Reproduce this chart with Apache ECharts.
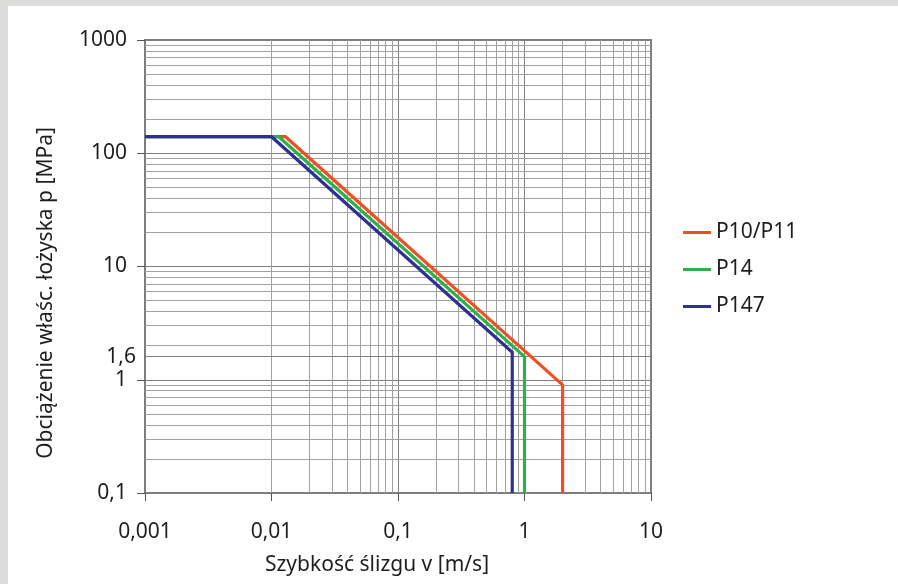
<!DOCTYPE html>
<html><head><meta charset="utf-8">
<script src="https://cdn.jsdelivr.net/npm/echarts@6/dist/echarts.min.js"></script>
<style>html,body{margin:0;padding:0;background:#fff}#c{width:898px;height:584px}</style>
</head><body><div id="c"></div>
<script>
// ---- data ----
const seriesNames = ['P10/P11', 'P14', 'P147'];
const seriesColors = ['#f04e23', '#2bb04a', '#2e3192'];
const p10Points = [[0.001, 140], [0.0129, 140], [2, 0.9], [2, 0.1]];
const p14Points = [[0.001, 140], [0.0114, 140], [1, 1.6], [1, 0.1]];
const p147Points = [[0.001, 140], [0.01, 140], [0.8, 1.75], [0.8, 0.1]];
const xTickLabels = ['0,001', '0,01', '0,1', '1', '10'];
const yTickLabels = ['0,1', '1', '10', '100', '1000'];
const extraYValue = 1.6;
const extraYLabel = '1,6';
const minorMultipliers = [2, 3, 4, 5, 6, 7, 8, 9];
const xDecades = [0.001, 0.01, 0.1, 1];
const yDecades = [0.1, 1, 10, 100];
const xTitle = 'Szybkość ślizgu v [m/s]';
const yTitle = 'Obciążenie właśc. łożyska p [MPa]';

const FONT = 'Noto Sans';
const chart = echarts.init(document.getElementById('c'), null, {renderer: 'canvas'});

const xMinor = xDecades.flatMap(d => minorMultipliers.map(m => ({xAxis: +(m * d).toPrecision(6)})));
const yMinor = yDecades.flatMap(d => minorMultipliers.map(m => ({yAxis: +(m * d).toPrecision(6)})));

const lineSeries = [p10Points, p14Points, p147Points].map((pts, i) => ({
  name: seriesNames[i],
  type: 'line',
  data: pts,
  showSymbol: false,
  symbol: 'none',
  z: 5 + i,
  lineStyle: {color: seriesColors[i], width: 3.2, join: 'miter'},
  itemStyle: {color: seriesColors[i]},
  animation: false
}));

chart.setOption({
  animation: false,
  backgroundColor: '#ffffff',
  textStyle: {fontFamily: FONT},
  grid: {left: 145, right: 247, top: 40, bottom: 91, show: true, borderColor: '#7d7d7d', borderWidth: 2, containLabel: false},
  legend: {
    data: seriesNames,
    orient: 'vertical',
    left: 678,
    top: 217,
    itemWidth: 28,
    itemHeight: 3,
    itemGap: 16,
    icon: 'rect',
    textStyle: {fontSize: 21, color: '#1e1e1e', fontFamily: FONT}
  },
  xAxis: {
    type: 'log', logBase: 10, min: 0.001, max: 10,
    axisLine: {show: true, onZero: false, lineStyle: {color: '#7d7d7d', width: 2}},
    axisTick: {show: true, length: 8, lineStyle: {color: '#555', width: 1}},
    splitLine: {show: true, lineStyle: {color: '#7f7f7f', width: 1}},
    minorTick: {show: false}, minorSplitLine: {show: false},
    axisLabel: {
      margin: 29, fontSize: 21, color: '#1e1e1e', fontFamily: FONT,
      formatter: v => xTickLabels[Math.round(Math.log10(v)) + 3]
    }
  },
  yAxis: {
    type: 'log', logBase: 10, min: 0.1, max: 1000,
    axisLine: {show: true, onZero: false, lineStyle: {color: '#7d7d7d', width: 2}},
    axisTick: {show: true, length: 8, lineStyle: {color: '#555', width: 1}},
    splitLine: {show: true, lineStyle: {color: '#7f7f7f', width: 1}},
    minorTick: {show: false}, minorSplitLine: {show: false},
    axisLabel: {
      margin: 18, fontSize: 21, color: '#1e1e1e', fontFamily: FONT,
      formatter: v => yTickLabels[Math.round(Math.log10(v)) + 1]
    }
  },
  graphic: [
    {type: 'rect', shape: {x: 0, y: 0, width: 898, height: 6}, style: {fill: '#dcdcda'}, z: 100},
    {type: 'rect', shape: {x: 0, y: 0, width: 8, height: 584}, style: {fill: '#dcdcda'}, z: 100},
    {type: 'text', x: 377, y: 565, z: 100,
     style: {text: xTitle, fontSize: 21, fontFamily: FONT, fill: '#1e1e1e', align: 'center', verticalAlign: 'middle'}},
    {type: 'text', x: 46, y: 293, rotation: Math.PI / 2, z: 100,
     style: {text: yTitle, fontSize: 21, fontFamily: FONT, fill: '#1e1e1e', align: 'center', verticalAlign: 'middle'}}
  ],
  series: [
    {
      name: 'gridMinor', type: 'line', data: [], z: 1, silent: true,
      markLine: {
        silent: true, symbol: ['none', 'none'], animation: false,
        label: {show: false},
        lineStyle: {color: '#a0a0a0', width: 1, type: 'solid'},
        emphasis: {disabled: true},
        data: xMinor.concat(yMinor)
      }
    },
    {
      name: 'gridExtra', type: 'line', data: [], z: 2, silent: true,
      markLine: {
        silent: true, symbol: ['none', 'none'], animation: false,
        lineStyle: {color: '#7f7f7f', width: 1, type: 'solid'},
        emphasis: {disabled: true},
        label: {show: true, position: 'start', distance: 9, formatter: extraYLabel, fontSize: 21, color: '#1e1e1e', fontFamily: FONT},
        data: [{yAxis: extraYValue}]
      }
    }
  ].concat(lineSeries)
});
</script></body></html>
